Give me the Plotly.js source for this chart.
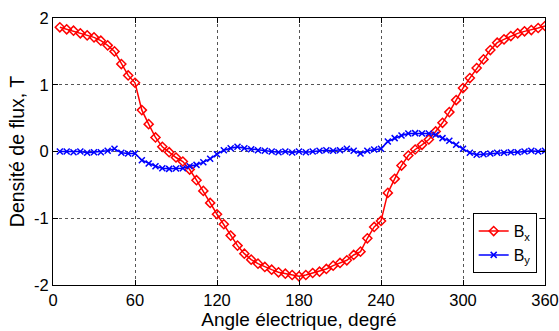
<!DOCTYPE html>
<html>
<head>
<meta charset="utf-8">
<script src="https://cdn.plot.ly/plotly-3.0.1.min.js"></script>
<style>html,body{margin:0;padding:0;background:#fff;}#chart{width:559px;height:331px;}</style>
</head>
<body>
<div id="chart"></div>
<script>
const angles = [5,10,15,20,25,30,35,40,45,50,55,60,65,70,75,80,85,90,95,100,105,110,115,120,125,130,135,140,145,150,155,160,165,170,175,180,185,190,195,200,205,210,215,220,225,230,235,240,245,250,255,260,265,270,275,280,285,290,295,300,305,310,315,320,325,330,335,340,345,350,355,360];
const bx = [1.86,1.83,1.81,1.77,1.74,1.71,1.66,1.59,1.50,1.31,1.14,1.03,0.62,0.41,0.21,0.07,-0.01,-0.09,-0.15,-0.27,-0.43,-0.59,-0.77,-0.94,-1.09,-1.26,-1.41,-1.53,-1.62,-1.68,-1.73,-1.77,-1.81,-1.83,-1.85,-1.87,-1.85,-1.82,-1.80,-1.76,-1.71,-1.67,-1.63,-1.55,-1.50,-1.30,-1.13,-1.04,-0.62,-0.41,-0.21,-0.06,0.03,0.10,0.18,0.30,0.43,0.59,0.77,0.95,1.10,1.25,1.38,1.52,1.63,1.68,1.73,1.77,1.80,1.82,1.85,1.88];
const by = [0.0,0.0,-0.01,0.0,-0.02,-0.01,-0.01,0.01,0.04,-0.02,-0.03,-0.03,-0.13,-0.18,-0.22,-0.25,-0.26,-0.255,-0.25,-0.22,-0.20,-0.16,-0.11,-0.04,0.02,0.05,0.07,0.05,0.035,0.02,0.01,0.0,-0.01,0.0,-0.015,0.0,-0.01,0.0,0.01,0.02,0.01,0.02,0.04,0.01,-0.03,0.01,0.03,0.04,0.15,0.20,0.24,0.27,0.275,0.27,0.27,0.25,0.20,0.16,0.10,0.04,-0.02,-0.05,-0.04,-0.03,-0.02,-0.02,-0.01,-0.01,0.0,0.01,0.0,0.01];
const xTicks = [0,60,120,180,240,300,360];
const yTicks = [-2,-1,0,1,2];
const seriesNames = ['B<sub>x</sub>','B<sub>y</sub>'];

const font = 'Liberation Sans, Arial, sans-serif';
const traces = [
  {x: angles, y: bx, name: seriesNames[0], type: 'scatter', mode: 'lines+markers',
   line: {color: '#ff0000', width: 1.5},
   marker: {symbol: 'diamond-open', size: 7, color: '#ff0000', line: {width: 1.5, color: '#ff0000'}}},
  {x: angles, y: by, name: seriesNames[1], type: 'scatter', mode: 'lines+markers',
   line: {color: '#0000ff', width: 1.5},
   marker: {symbol: 'x-thin-open', size: 6, color: '#0000ff', line: {width: 1.5, color: '#0000ff'}}}
];
const axisCommon = {
  showline: true, linecolor: '#000', linewidth: 1, mirror: 'ticks',
  ticks: 'inside', ticklen: 5, tickcolor: '#000',
  showgrid: true, gridcolor: '#555', griddash: 'dot', gridwidth: 1,
  zeroline: false, tickfont: {family: font, size: 16.5, color: '#000'},
  ticklabeloverflow: 'allow'
};
const layout = {
  width: 559, height: 331,
  margin: {l: 53, r: 14, t: 18, b: 46},
  paper_bgcolor: '#fff', plot_bgcolor: '#fff',
  showlegend: true,
  xaxis: Object.assign({}, axisCommon, {
    range: [0, 360], tickvals: xTicks, ticktext: xTicks.map(String),
    title: {text: 'Angle électrique, degré', font: {family: font, size: 19, color: '#000'}, standoff: 1}
  }),
  yaxis: Object.assign({}, axisCommon, {
    range: [-2, 2], tickvals: yTicks, ticktext: yTicks.map(String),
    title: {text: 'Densité de flux, T', font: {family: font, size: 19.5, color: '#000'}, standoff: 4}
  }),
  legend: {x: 0.853, y: 0.269, xanchor: 'left', yanchor: 'top',
    bgcolor: '#fff', bordercolor: '#000', borderwidth: 1,
    font: {family: font, size: 16, color: '#000'}}
};
Plotly.newPlot('chart', traces, layout, {displayModeBar: false, staticPlot: true});
</script>
</body>
</html>
